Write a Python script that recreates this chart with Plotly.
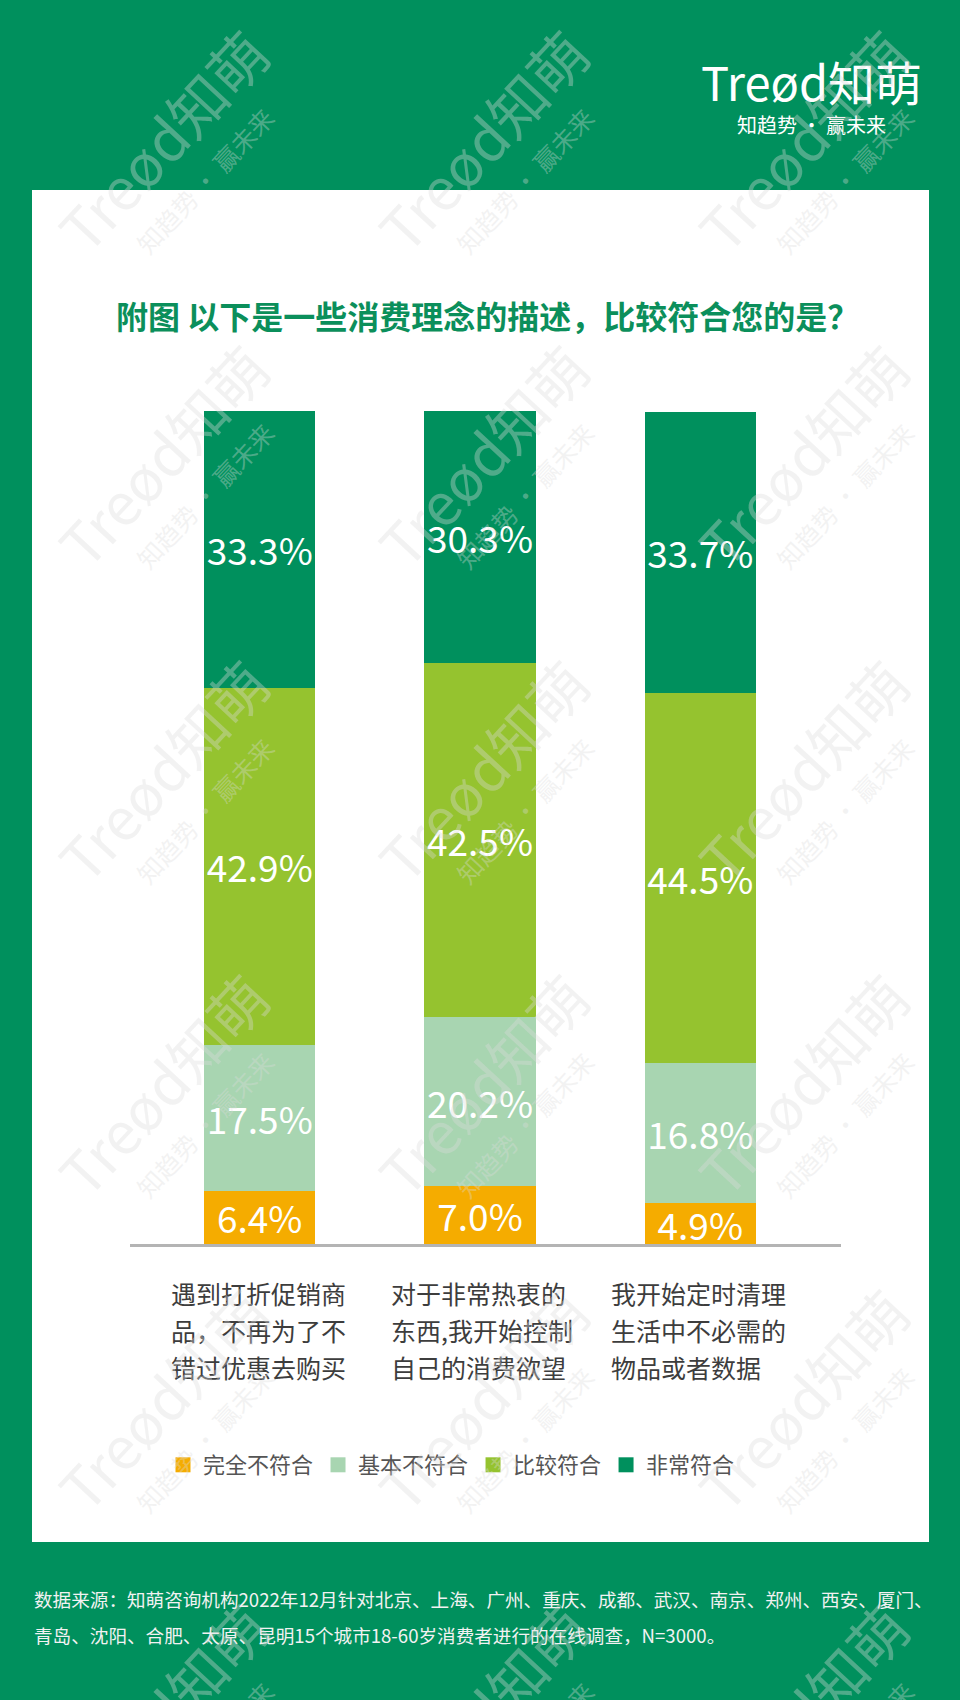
import math
import plotly.graph_objects as go

# ---------------- data ----------------
categories = ["遇到打折促销商品，不再为了不错过优惠去购买",
              "对于非常热衷的东西,我开始控制自己的消费欲望",
              "我开始定时清理生活中不必需的物品或者数据"]
category_lines = [["遇到打折促销商", "品，不再为了不", "错过优惠去购买"],
                  ["对于非常热衷的", "东西,我开始控制", "自己的消费欲望"],
                  ["我开始定时清理", "生活中不必需的", "物品或者数据"]]
series_names = ["完全不符合", "基本不符合", "比较符合", "非常符合"]
v_wanquan = [6.4, 7.0, 4.9]
v_jiben = [17.5, 20.2, 16.8]
v_bijiao = [42.9, 42.5, 44.5]
v_feichang = [33.3, 30.3, 33.7]
series_values = [v_wanquan, v_jiben, v_bijiao, v_feichang]

title_text = "附图 以下是一些消费理念的描述，比较符合您的是？"
source_lines = ["数据来源：知萌咨询机构2022年12月针对北京、上海、广州、重庆、成都、武汉、南京、郑州、西安、厦门、",
                "青岛、沈阳、合肥、太原、昆明15个城市18-60岁消费者进行的在线调查，N=3000。"]
logo_main = "Treød知萌"
logo_sub = "知趋势 · 赢未来"

# ---------------- style ----------------
colors = ["#F5AC00", "#A8D5B1", "#95C32F", "#00905D"]
BG = "#00905D"
FONT = "Noto Sans CJK SC"
W, H = 960, 1700
L, R, T, B = 130, 119, 411, 456
PW, PH = W - L - R, H - T - B


def px(X):
    return (X - L) / PW


def py(Y):
    return (H - B - Y) / PH


fig = go.Figure()
for name, vals, col in zip(series_names, series_values, colors):
    fig.add_trace(go.Bar(
        x=categories, y=vals, name=name, showlegend=False,
        marker=dict(color=col, line=dict(width=0)),
        width=[0.505] * len(vals),
        text=[f"{v:.1f}%" for v in vals],
        textposition="inside", insidetextanchor="middle", textangle=0,
        constraintext="none",
        insidetextfont=dict(family=FONT, size=37, color="white"),
        hoverinfo="skip",
    ))
# legend entries (square swatches)
for name, col in zip(series_names, colors):
    fig.add_trace(go.Scatter(
        x=[None], y=[None], mode="markers", name=name,
        marker=dict(symbol="square", size=15, color=col),
        hoverinfo="skip",
    ))

annotations = []
# title
annotations.append(dict(text="<b>" + title_text + "</b>", xref="paper", yref="paper",
                        x=px(487), y=py(315), xanchor="center", yanchor="middle",
                        showarrow=False, font=dict(family=FONT, size=32, color="#0B8F5B")))
# category labels
line_y = [1293, 1330, 1367]
for cat, lines in zip(categories, category_lines):
    for ln, yy in zip(lines, line_y):
        annotations.append(dict(text=ln, xref="x", yref="paper", x=cat, y=py(yy),
                                xanchor="left", yanchor="middle", xshift=-91,
                                showarrow=False, font=dict(family=FONT, size=25, color="#3d3d3d")))
# source
for ln, yy in zip(source_lines, [1598, 1634]):
    annotations.append(dict(text=ln, xref="paper", yref="paper", x=px(32), y=py(yy),
                            xanchor="left", yanchor="middle", showarrow=False,
                            font=dict(family=FONT, size=18.6, color="#F2F2F2")))
# logo
annotations.append(dict(text=logo_main, xref="paper", yref="paper", x=px(811), y=py(80),
                        xanchor="center", yanchor="middle", showarrow=False,
                        font=dict(family=FONT, size=47, color="white")))
annotations.append(dict(text=logo_sub, xref="paper", yref="paper", x=px(811), y=py(125),
                        xanchor="center", yanchor="middle", showarrow=False,
                        font=dict(family=FONT, size=20, color="white")))
# watermarks
theta = math.radians(47)
nx, ny = math.sin(theta), math.cos(theta)
wm_color = "rgba(220,220,220,0.36)"
for cy in [140, 455, 770, 1084, 1399, 1714]:
    for cx in [162, 482, 802]:
        annotations.append(dict(text=logo_main, xref="paper", yref="paper",
                                x=px(cx), y=py(cy), xanchor="center", yanchor="middle",
                                textangle=-47, showarrow=False,
                                font=dict(family=FONT, size=58, color=wm_color)))
        annotations.append(dict(text=logo_sub, xref="paper", yref="paper",
                                x=px(cx + 58 * nx), y=py(cy + 58 * ny),
                                xanchor="center", yanchor="middle",
                                textangle=-47, showarrow=False,
                                font=dict(family=FONT, size=25, color=wm_color)))

shapes = [dict(type="rect", xref="paper", yref="paper", x0=px(32), x1=px(929),
               y0=py(1542), y1=py(190), fillcolor="white", line=dict(width=0), layer="below")]

fig.update_layout(
    width=W, height=H,
    margin=dict(l=L, r=R, t=T, b=B, pad=0),
    paper_bgcolor=BG, plot_bgcolor="rgba(0,0,0,0)",
    barmode="stack",
    showlegend=True,
    legend=dict(orientation="h", x=px(163), xanchor="left", y=py(1465), yanchor="middle",
                font=dict(family=FONT, size=22, color="#555555"), traceorder="normal",
                bgcolor="rgba(0,0,0,0)", itemclick=False, itemdoubleclick=False),
    xaxis=dict(range=[-0.589, 2.639], showticklabels=False, showgrid=False, zeroline=False,
               showline=True, linecolor="#B4B4B4", linewidth=3, ticks="", fixedrange=True),
    yaxis=dict(range=[0, 100], visible=False, fixedrange=True),
    annotations=annotations,
    shapes=shapes,
    hovermode=False,
    font=dict(family=FONT),
)

fig.write_html("out.html", config={"displayModeBar": False},
               post_script="document.body.style.margin='0';document.body.style.background='%s';" % BG)
